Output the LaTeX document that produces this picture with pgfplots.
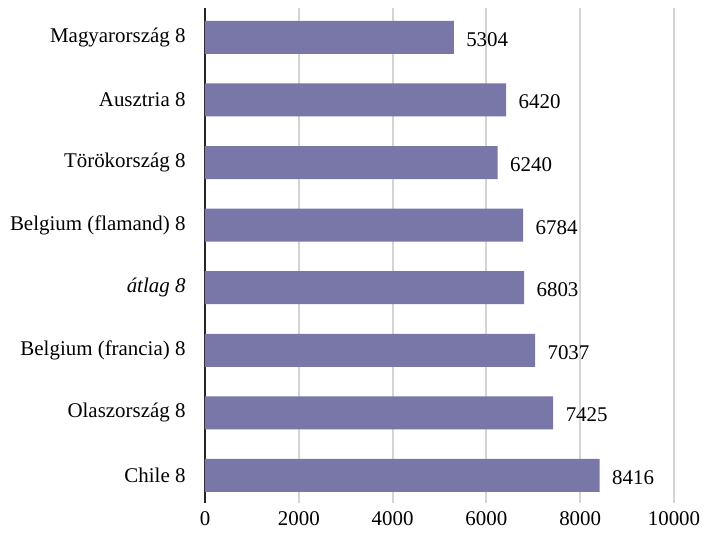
\documentclass[border=0pt]{standalone}
\usepackage{fontspec}
\setmainfont{Liberation Serif}
\usepackage{pgfplots}
\pgfplotsset{compat=1.18}
\definecolor{barc}{RGB}{121,119,168}
\definecolor{gridc}{RGB}{212,212,212}
\begin{document}
\begin{tikzpicture}
\begin{axis}[
  at={(0,0)}, anchor=south west,
  scale only axis,
  width=469bp, height=495bp,
  xbar,
  bar width=33bp,
  xmin=0, xmax=10000,
  ymin=-0.47, ymax=7.44,
  y dir=reverse,
  ytick={0,...,7},
  yticklabels={Magyarország 8, Ausztria 8, Törökország 8, Belgium (flamand) 8, \textit{átlag 8}, Belgium (francia) 8, Olaszország 8, Chile 8},
  xtick={0,2000,...,10000},
  scaled x ticks=false,
  /pgf/number format/.cd, use comma=false, 1000 sep={}, assume math mode=true, /pgfplots/.cd,
  major tick length=0pt,
  axis x line*=bottom, axis y line*=left,
  x axis line style={draw=none},
  y axis line style={black!85, line width=2.4bp},
  xmajorgrids,
  major grid style={gridc, line width=2bp},
  tick label style={font=\fontsize{21}{24}\selectfont},
  yticklabel style={xshift=-16bp},
  xticklabel style={yshift=-5bp},
  nodes near coords,
  nodes near coords style={font=\fontsize{21}{24}\selectfont, anchor=west, xshift=9bp, yshift=-2bp},
  point meta=x,
]
\addplot[fill=barc, draw=none] coordinates {
  (5304,0) (6420,1) (6240,2) (6784,3) (6803,4) (7037,5) (7425,6) (8416,7)
};
\end{axis}
\pgfresetboundingbox
\path[use as bounding box] (-205bp,-30bp) rectangle (499bp,503bp);
\end{tikzpicture}
\end{document}
